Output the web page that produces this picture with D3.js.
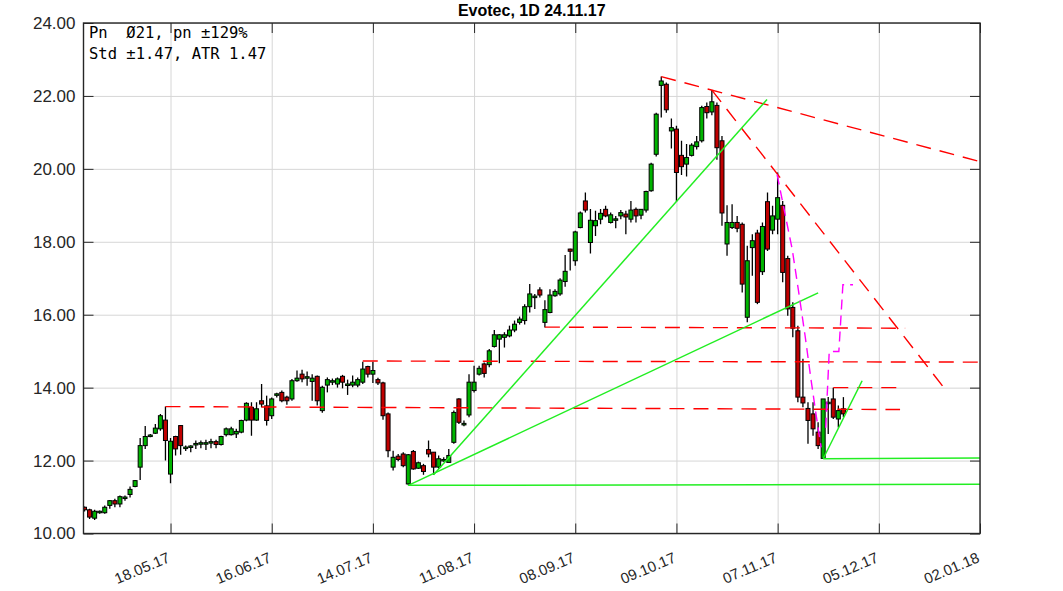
<!DOCTYPE html>
<html><head><meta charset="utf-8">
<script src="https://cdn.jsdelivr.net/npm/d3@7"></script>
<style>
html,body{margin:0;padding:0;background:#fff;}
svg{display:block;}
</style></head>
<body>
<svg id="chart" width="1063" height="591"></svg>
<script>
// ---------- data ----------
const title = "Evotec, 1D 24.11.17";
const infoLines = ["Pn  \u00D821, pn \u00B1129%", "Std \u00B11.47, ATR 1.47"];

const yTicks = [10, 12, 14, 16, 18, 20, 22, 24];
const xTickIdx = [17, 37, 57, 77, 97, 117, 137, 157, 177];
const xTickLabels = ["18.05.17","16.06.17","14.07.17","11.08.17","08.09.17","09.10.17","07.11.17","05.12.17","02.01.18"];

const open = [10.72,10.65,10.42,10.59,10.57,10.77,10.90,10.81,10.98,11.07,
11.29,11.82,12.41,12.67,12.75,12.87,13.11,11.63,12.66,12.96,
12.33,12.37,12.44,12.46,12.47,12.49,12.52,12.44,12.71,12.71,
12.73,12.78,13.11,13.46,13.11,13.64,13.50,13.23,13.80,13.87,
13.74,13.69,14.19,14.37,14.29,14.17,14.31,13.37,14.07,14.15,
14.10,14.31,14.08,14.07,14.07,14.15,14.58,14.37,14.22,14.13,
13.28,11.82,12.12,12.18,11.36,12.25,11.79,11.86,12.30,12.23,
11.82,12.00,11.95,12.50,13.69,13.00,13.25,13.92,14.37,14.65,
14.63,15.13,15.33,15.38,15.42,15.58,15.79,15.84,16.22,16.48,
16.68,15.79,16.06,16.52,16.57,16.91,17.80,17.48,18.39,19.12,
17.98,18.44,18.62,18.89,18.53,18.60,18.71,18.76,18.62,18.89,
18.73,18.87,19.40,20.40,22.29,22.32,21.04,21.09,20.37,20.13,
20.37,20.61,20.77,21.71,21.56,21.74,20.77,17.94,18.39,18.53,
18.48,15.93,17.84,18.24,17.18,19.10,18.32,18.62,19.00,17.54,
16.20,15.56,13.74,13.43,13.28,12.78,12.06,13.58,13.69,13.14,13.42];
const high = [10.74,10.68,10.65,10.63,10.77,10.92,10.95,11.04,11.04,11.29,
11.47,12.62,12.95,12.73,13.00,13.28,13.48,12.62,12.68,12.96,
12.41,12.42,12.55,12.55,12.57,12.60,12.57,12.68,12.91,12.93,
12.87,13.12,13.60,13.60,13.60,14.10,13.78,13.73,13.86,13.92,
13.78,14.24,14.47,14.49,14.44,14.37,14.33,14.05,14.28,14.25,
14.28,14.35,14.22,14.33,14.28,14.71,14.60,14.71,14.27,14.16,
13.32,12.27,12.18,12.23,12.18,12.29,11.97,11.91,12.55,12.23,
12.14,12.09,12.32,13.37,13.71,13.10,14.37,14.60,14.60,14.69,
15.06,15.58,15.47,15.52,15.70,15.84,15.95,16.29,16.84,16.57,
16.75,16.40,16.70,16.70,17.00,17.64,17.81,18.30,18.83,19.35,
18.90,18.85,18.90,18.99,18.80,18.71,18.87,18.85,19.12,18.94,
18.90,19.40,20.17,21.54,22.53,22.37,21.38,21.18,20.77,20.68,
20.70,20.90,21.73,21.82,22.16,21.82,20.90,19.00,19.03,18.71,
18.53,17.89,18.21,18.33,18.53,19.35,18.99,19.90,19.12,17.62,
16.34,15.70,14.79,13.60,13.60,13.05,13.69,13.74,14.00,13.51,13.74];
const low = [10.60,10.40,10.37,10.54,10.54,10.68,10.72,10.72,10.90,10.99,
11.27,11.47,12.32,12.64,12.73,12.82,12.00,11.38,12.14,12.16,
12.26,12.23,12.32,12.34,12.29,12.34,12.34,12.41,12.66,12.69,
12.62,12.75,13.08,12.68,13.09,13.46,12.96,13.14,13.73,13.60,
13.53,13.64,14.16,14.15,14.05,13.64,13.51,13.31,13.87,14.07,
14.00,13.98,13.80,14.01,14.01,14.10,14.28,14.13,14.07,13.12,
12.09,11.73,11.98,11.82,11.32,11.75,11.77,11.61,12.09,11.61,
11.77,11.97,11.97,12.46,13.00,12.94,13.19,13.87,14.33,14.28,
14.56,15.10,14.67,15.10,15.38,15.52,15.73,15.73,16.06,16.16,
16.47,15.65,16.04,16.49,16.52,16.77,17.21,17.34,18.37,18.80,
17.68,18.16,18.48,18.67,18.50,18.37,18.62,18.21,18.53,18.53,
18.62,18.80,19.37,20.34,21.41,21.54,20.56,19.10,19.83,19.79,
20.34,20.53,20.72,21.38,21.47,20.25,18.44,17.62,18.35,18.26,
16.61,15.79,17.07,16.29,17.09,17.75,18.21,18.21,16.89,15.97,
15.38,13.60,13.46,12.46,12.68,12.32,12.05,12.73,13.14,12.91,13.19];
const close = [10.65,10.45,10.61,10.61,10.72,10.90,10.81,11.01,11.00,11.21,
11.45,12.41,12.66,12.70,12.89,13.23,12.55,12.53,12.32,12.41,
12.37,12.40,12.47,12.49,12.49,12.52,12.44,12.66,12.87,12.87,
12.80,13.10,13.57,13.11,13.42,13.55,13.10,13.69,13.83,13.64,
13.64,14.19,14.26,14.24,14.30,14.26,13.64,14.01,14.22,14.19,
14.24,14.15,14.10,14.15,14.22,14.51,14.37,14.47,14.13,13.23,
12.27,12.09,12.03,11.86,12.16,11.77,11.94,11.70,12.18,11.82,
12.05,12.03,12.14,13.32,13.05,13.02,14.15,14.15,14.53,14.39,
15.01,15.45,15.45,15.45,15.58,15.74,15.88,16.22,16.57,16.51,
16.54,16.14,16.54,16.64,16.95,17.19,17.74,18.27,18.79,18.87,
18.59,18.58,18.78,18.71,18.74,18.63,18.80,18.68,18.87,18.71,
18.89,19.38,20.13,21.50,22.41,21.62,21.13,19.90,20.06,20.31,
20.65,20.74,21.68,21.54,21.84,20.58,18.79,18.53,18.53,18.37,
16.84,17.48,18.03,16.34,18.42,17.80,18.71,19.21,17.16,16.16,
15.63,13.74,13.58,13.10,12.87,12.41,13.69,13.60,13.19,13.37,13.28];

// trend lines: [bar index, price] end points
const redDashed = [
  [[16, 13.48], [161.2, 13.40]],
  [[55, 14.73], [177, 14.70]],
  [[91, 15.66], [162.2, 15.63]],
  [[114, 22.53], [177, 20.20]],
  [[124, 22.16], [170.2, 13.94]],
  [[148, 14.00], [161.5, 14.00]]
];
const greenLines = [
  [[64, 11.32], [177, 11.35]],
  [[64, 11.32], [145, 16.60]],
  [[69, 11.61], [134.9, 21.90]],
  [[146, 12.05], [177, 12.07]],
  [[146, 12.05], [153.7, 14.19]]
];
const magentaDown = [[136.9,19.84],[138.5,18.74],[139.9,17.78],[141.1,16.68],[142.4,15.45],[143.6,14.22],[144.6,13.26],[145.6,12.36]];
const magentaSteps = [[146.5,12.9],[147.2,14.99],[149.1,14.99],[149.9,16.82],[151.9,16.82]];

// ---------- chart ----------
const svg = d3.select("#chart");
const L = 83.5, R = 980, T = 23, B = 533.5;
const x = d3.scaleLinear().domain([-0.2, 177]).range([L, R]);
const y = d3.scaleLinear().domain([10, 24]).range([B, T]);

svg.append("defs").append("clipPath").attr("id","clip")
  .append("rect").attr("x",L).attr("y",T).attr("width",R-L).attr("height",B-T);

// grid
const grid = svg.append("g").attr("class","grid");
grid.append("g").attr("transform",`translate(${L},0)`)
  .call(d3.axisLeft(y).tickValues(yTicks).tickSize(-(R-L)).tickFormat(""))
  .call(g=>g.select(".domain").remove())
  .call(g=>g.selectAll("line").attr("stroke","#d6d6d6").attr("stroke-width",1));
grid.append("g").attr("transform",`translate(0,${B})`)
  .call(d3.axisBottom(x).tickValues(xTickIdx).tickSize(-(B-T)).tickFormat(""))
  .call(g=>g.select(".domain").remove())
  .call(g=>g.selectAll("line").attr("stroke","#d6d6d6").attr("stroke-width",1));

// candles
const idx = d3.range(open.length);
const cg = svg.append("g").attr("clip-path","url(#clip)");
const bw = 4;
cg.selectAll("line.wick").data(idx).join("line")
  .attr("class","wick")
  .attr("x1", i=>x(i)).attr("x2", i=>x(i))
  .attr("y1", i=>y(high[i])).attr("y2", i=>y(low[i]))
  .attr("stroke","#000").attr("stroke-width",1.3);
cg.selectAll("rect.body").data(idx).join("rect")
  .attr("class","body")
  .attr("x", i=>x(i)-bw/2)
  .attr("y", i=>y(Math.max(open[i],close[i])))
  .attr("width", bw)
  .attr("height", i=>Math.max(1.5, Math.abs(y(open[i])-y(close[i]))))
  .attr("fill", i=> close[i]>=open[i] ? "#00b400" : "#c00000")
  .attr("stroke","#000").attr("stroke-width",1);

// lines
const lg = svg.append("g").attr("clip-path","url(#clip)");
const line = d3.line().x(d=>x(d[0])).y(d=>y(d[1]));
lg.selectAll("path.red").data(redDashed).join("path")
  .attr("class","red").attr("d", line).attr("fill","none")
  .attr("stroke","#ff0000").attr("stroke-width",1.4).attr("stroke-dasharray","15,9");
lg.selectAll("path.green").data(greenLines).join("path")
  .attr("class","green").attr("d", line).attr("fill","none")
  .attr("stroke","#22ee22").attr("stroke-width",1.5);
lg.selectAll("path.mag").data([magentaDown, magentaSteps]).join("path")
  .attr("class","mag").attr("d", line).attr("fill","none")
  .attr("stroke","#ff00ff").attr("stroke-width",1.4).attr("stroke-dasharray","10,6");

// axes with inward ticks
const axCol = "#262626";
const yAx = svg.append("g").attr("transform",`translate(${L},0)`)
  .call(d3.axisLeft(y).tickValues(yTicks).tickSize(-10).tickPadding(8).tickFormat(d3.format(".2f")));
yAx.select(".domain").remove();
yAx.selectAll("line").attr("stroke",axCol);
yAx.selectAll("text").attr("font-family","Liberation Sans, Arial, sans-serif").attr("font-size",17).attr("fill","#262626");

const yAxR = svg.append("g").attr("transform",`translate(${R},0)`)
  .call(d3.axisRight(y).tickValues(yTicks).tickSize(-10).tickFormat(""));
yAxR.select(".domain").remove();
yAxR.selectAll("line").attr("stroke",axCol);

const xAx = svg.append("g").attr("transform",`translate(0,${B})`)
  .call(d3.axisBottom(x).tickValues(xTickIdx).tickSize(-10).tickFormat((d,i)=>xTickLabels[i]));
xAx.select(".domain").remove();
xAx.selectAll("line").attr("stroke",axCol);
xAx.selectAll("text")
  .attr("font-family","Liberation Sans, Arial, sans-serif").attr("font-size",15).attr("fill","#262626")
  .attr("x",0).attr("y",0).attr("dy",0)
  .attr("text-anchor","end")
  .attr("transform","translate(0,28) rotate(-23)");

const xAxT = svg.append("g").attr("transform",`translate(0,${T})`)
  .call(d3.axisTop(x).tickValues(xTickIdx).tickSize(-10).tickFormat(""));
xAxT.select(".domain").remove();
xAxT.selectAll("line").attr("stroke",axCol);

// frame
svg.append("rect").attr("x",L).attr("y",T).attr("width",R-L).attr("height",B-T)
  .attr("fill","none").attr("stroke",axCol).attr("stroke-width",1.4);

// title
svg.append("text").attr("x",(L+R)/2).attr("y",16).attr("text-anchor","middle")
  .attr("font-family","Liberation Sans, Arial, sans-serif").attr("font-weight","bold")
  .attr("font-size",16).attr("fill","#000").text(title);

// info text
svg.append("g").selectAll("text").data(infoLines).join("text")
  .attr("x",89).attr("y",(d,i)=>38+i*21)
  .attr("font-family","DejaVu Sans Mono, monospace").attr("font-size",15.5)
  .attr("fill","#000").attr("xml:space","preserve").style("white-space","pre").text(d=>d);
</script>
</body></html>
